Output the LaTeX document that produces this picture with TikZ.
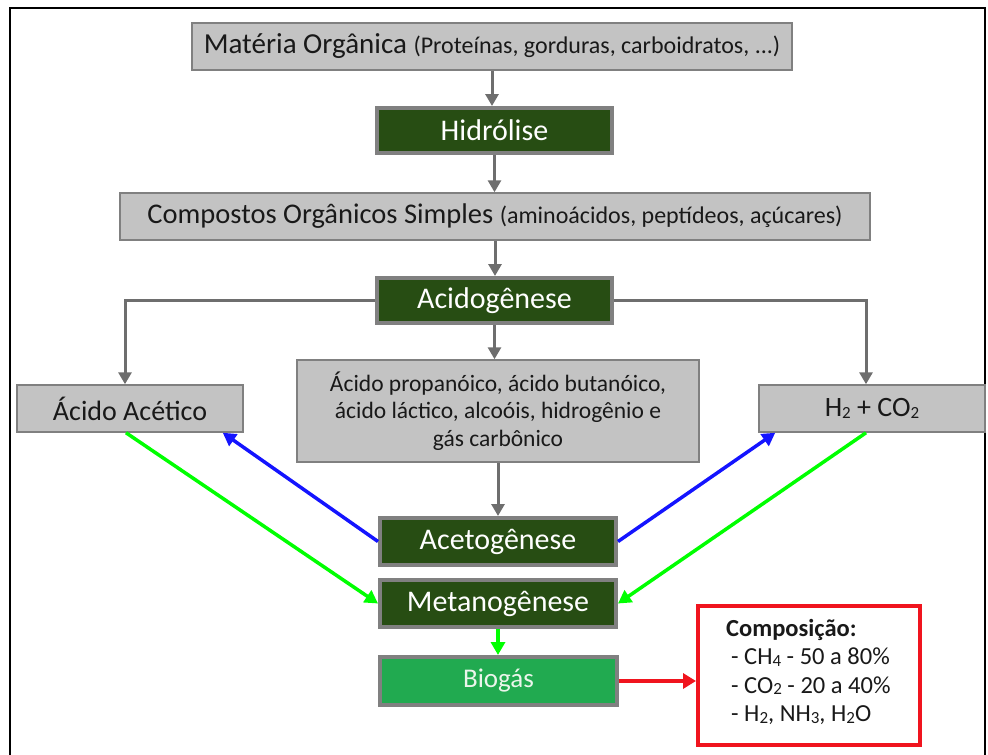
\documentclass[tikz,border=0pt]{standalone}
\usepackage{fontspec}
\setmainfont{Carlito}
\usetikzlibrary{arrows.meta}
\definecolor{boxgray}{RGB}{195,195,195}
\definecolor{bordgray}{RGB}{128,128,128}
\definecolor{arrgray}{RGB}{110,110,110}
\definecolor{dkgreen}{RGB}{39,77,19}
\definecolor{biogreen}{RGB}{33,170,80}
\definecolor{txt}{RGB}{25,25,25}
\definecolor{ablue}{RGB}{20,20,255}
\definecolor{agreen}{RGB}{0,255,0}
\definecolor{ared}{RGB}{240,20,30}
\newcommand\sbs[1]{\raisebox{-1.2pt}{\fontsize{17}{17}\selectfont #1}}
\tikzset{
  lbox/.style={draw=bordgray, fill=boxgray, line width=1.5pt, inner sep=0pt, text=txt},
  dbox/.style={draw=bordgray, fill=dkgreen, line width=4pt, inner sep=0pt, text=white,
    font=\fontsize{30}{36}\selectfont},
  garr/.style={draw=arrgray, line width=3pt, -{Triangle[width=13pt,length=12pt]}},
  barr/.style={draw=ablue, line width=3.5pt, -{Triangle[width=14pt,length=13pt]}},
  grarr/.style={draw=agreen, line width=3.5pt, -{Triangle[width=14pt,length=13pt]}},
  rarr/.style={draw=ared, line width=4pt, -{Triangle[width=15pt,length=13pt]}},
}
\begin{document}
\begin{tikzpicture}[x=1pt,y=-1pt]
\useasboundingbox (0,0) rectangle (988,755);
% frame
\draw[line width=2pt, black] (10,757) -- (10,8) -- (985,8) -- (985,757);

\node[lbox, minimum width=600pt, minimum height=47pt] (mo) at (492,46.5)
  {\fontsize{29}{34}\selectfont Matéria Orgânica {\fontsize{24}{28}\selectfont(Proteínas, gorduras, carboidratos, ...)}};
\node[dbox, minimum width=235pt, minimum height=45pt] (hid) at (494.5,130.5) {Hidrólise};
\node[lbox, minimum width=750pt, minimum height=47pt] (comp) at (495,216.5)
  {\fontsize{28.5}{34}\selectfont Compostos Orgânicos Simples {\fontsize{24}{28}\selectfont(aminoácidos, peptídeos, açúcares)}};
\node[dbox, minimum width=235pt, minimum height=45pt] (acid) at (494.5,300.5) {Acidogênese};
\node[lbox, minimum width=402pt, minimum height=102pt, align=center,
  font=\fontsize{23.5}{27.5}\selectfont] (mid) at (498,411)
  {Ácido propanóico, ácido butanóico,\\ácido láctico, alcoóis, hidrogênio e\\gás carbônico};
\node[lbox, minimum width=226pt, minimum height=47pt, font=\fontsize{28}{33}\selectfont] (aa) at (130,408.5) {Ácido Acético};
\node[lbox, minimum width=226pt, minimum height=47pt, font=\fontsize{28}{33}\selectfont] (hc) at (872,408.5)
  {H\sbs{2} + CO\sbs{2}};
\node[dbox, minimum width=236pt, minimum height=47pt] (aceto) at (498,541.5) {Acetogênese};
\node[dbox, minimum width=236pt, minimum height=47pt] (meta) at (498,603.5) {Metanogênese};
\node[dbox, fill=biogreen, minimum width=237pt, minimum height=48pt, text={rgb,255:red,235;green,245;blue,235},
  font=\fontsize{27}{32}\selectfont] (bio) at (498.5,681) {Biogás};
\node[draw=ared, line width=4pt, minimum width=222pt, minimum height=139pt, inner sep=0pt] (cmp) at (809,675.5) {};
\node[anchor=north west, inner sep=0pt, align=left, text=txt,
  font=\fontsize{24.5}{28.5}\selectfont] (cmptext) at (726,619)
  {\textbf{Composição:}\\ \hspace*{5pt}- CH\sbs{4} - 50 a 80\%\\ \hspace*{5pt}- CO\sbs{2} - 20 a 40\%\\ \hspace*{5pt}- H\sbs{2}, NH\sbs{3}, H\sbs{2}O};

% gray arrows
\draw[garr] (mo.south) -- (mo.south |- hid.north);
\draw[garr] (hid.south) -- (hid.south |- comp.north);
\draw[garr] (comp.south) -- (comp.south |- acid.north);
\draw[garr] (acid.south) -- (acid.south |- mid.north);
\draw[garr] (mid.south) -- (mid.south |- aceto.north);
\draw[garr] (acid.west) -| ([xshift=-5pt]aa.north);
\draw[garr] (acid.east) -| ([xshift=-6pt]hc.north);
% blue
\draw[barr] (aceto.west) -- ([xshift=-21pt]aa.south east);
\draw[barr] (aceto.east) -- ([xshift=17pt]hc.south west);
% green
\draw[grarr] ([xshift=-4pt]aa.south) -- (meta.west);
\draw[grarr] ([xshift=-6pt]hc.south) -- (meta.east);
\draw[grarr] (meta.south) -- (meta.south |- bio.north);
% red
\draw[rarr] (bio.east) -- (bio.east -| cmp.west);
\end{tikzpicture}
\end{document}
